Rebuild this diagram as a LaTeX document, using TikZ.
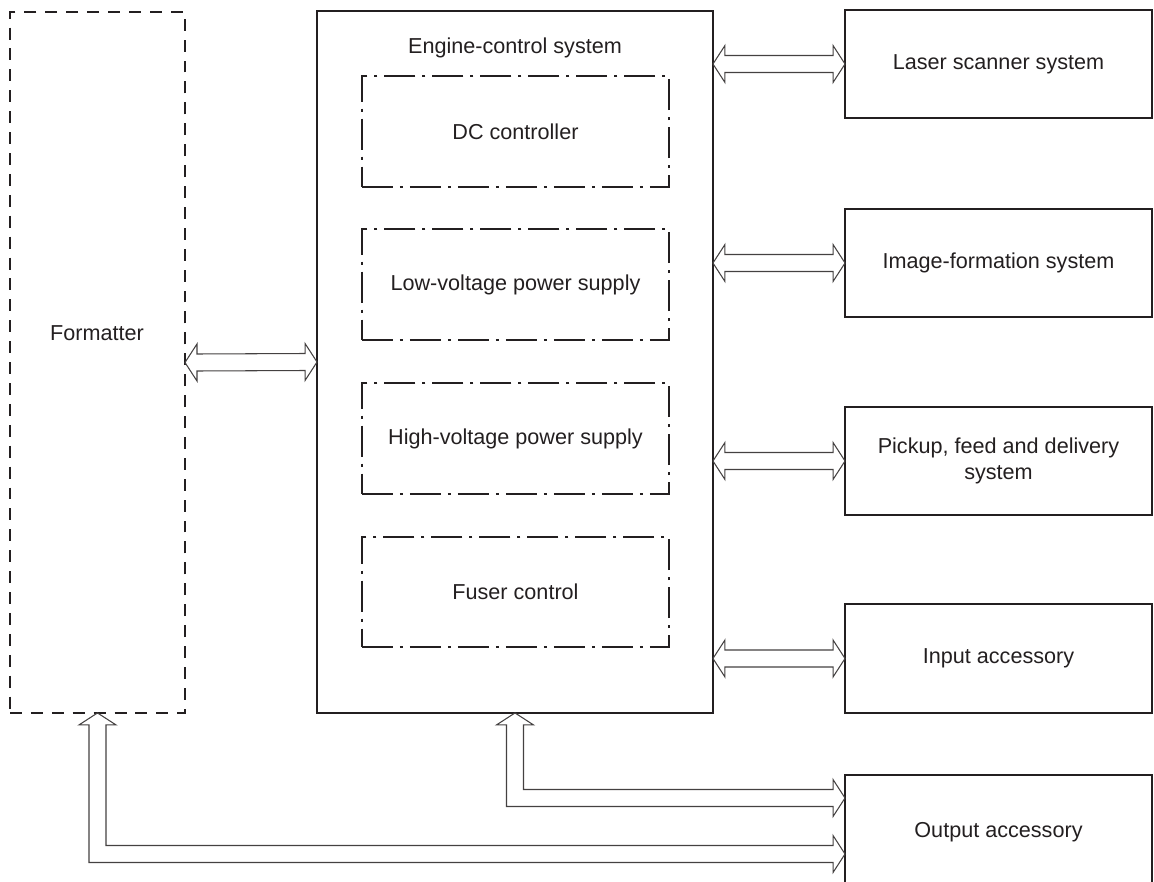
\documentclass[tikz,border=0pt]{standalone}
\usepackage{fontspec}
\setmainfont{Liberation Sans}
\usepackage{tikz}
\usetikzlibrary{calc}
\definecolor{ink}{HTML}{231F20}
\tikzset{
	box/.style={draw=ink, line width=1.5pt, outer sep=0pt, inner sep=0pt},
	dashbox/.style={box, dash pattern=on 6.8pt off 5.1pt},
	dotbox/.style={box, dash pattern=on 17.6pt off 4pt on 1.7pt off 4pt},
	lbl/.style={text=ink, font=\fontsize{12.3}{14.5}\selectfont, align=center},
	fatarrow/.style={draw=ink!85, line width=0.6pt, line join=miter}
}
\def\dblarrow(#1)(#2){\draw[fatarrow] (#1) -- ++(12,-18.5) -- ++(0,10) -- ($(#2)+(-12,-8.5)$) -- ++(0,-10) -- (#2) -- ++(-12,18.5) -- ++(0,-10) -- ($(#1)+(12,8.5)$) -- ++(0,10) -- cycle;}
\def\elbowarrow(#1)(#2){\draw[fatarrow] (#1) -- ++(18.5,12) -- ++(-10,0) -- ($(#1 |- #2)+(8.5,-8.5)$) -- ($(#2)+(-12,-8.5)$) -- ++(0,-10) -- (#2) -- ++(-12,18.5) -- ++(0,-10) -- ($(#1 |- #2)+(-8.5,8.5)$) -- ($(#1)+(-8.5,12)$) -- ++(-10,0) -- cycle;}

\begin{document}
\begin{tikzpicture}[x=0.02cm, y=-0.02cm]
			%%%%% START %%%%%
			\useasboundingbox (0,0) rectangle (1154,882);
			\clip (0,0) rectangle (1154,882);
			
			\node[dashbox, minimum width=3.5cm, minimum height=14.02cm] (formatter) at (97.5, 362.5) {};
			\node[lbl] (formatterlbl) at (97, 333) {Formatter};
			
			\node[box, minimum width=7.92cm, minimum height=14.04cm] (engine) at (515, 362) {};
			\node[lbl] (enginelbl) at (515, 48) {Engine-control system};
			
			\node[dotbox, lbl, minimum width=6.14cm, minimum height=2.22cm] (dcctrl) at (515.5, 131.5) {DC controller};
			\node[dotbox, lbl, minimum width=6.14cm, minimum height=2.22cm] (lvps) at (515.5, 284.5) {Low-voltage power supply};
			\node[dotbox, lbl, minimum width=6.14cm, minimum height=2.22cm] (hvps) at (515.5, 438.5) {High-voltage power supply};
			\node[dotbox, lbl, minimum width=6.14cm, minimum height=2.2cm] (fuser) at (515.5, 592) {Fuser control};
			
			\node[box, lbl, minimum width=6.14cm, minimum height=2.16cm] (laser) at (998.5, 64) {Laser scanner system};
			\node[box, lbl, minimum width=6.14cm, minimum height=2.16cm] (imgform) at (998.5, 263) {Image-formation system};
			\node[box, lbl, minimum width=6.14cm, minimum height=2.16cm] (pickup) at (998.5, 461) {Pickup, feed and delivery\\system};
			\node[box, lbl, minimum width=6.14cm, minimum height=2.18cm] (inacc) at (998.5, 658.5) {Input accessory};
			\node[box, lbl, minimum width=6.14cm, minimum height=2.3cm] (outacc) at (998.5, 832.5) {Output accessory};
			
			\coordinate (oaengine) at ($(outacc.north west)+(0,23)$);
			\coordinate (oaformatter) at ($(outacc.north west)+(0,79)$);
			
			\dblarrow(formatter.east)(engine.west)
			\dblarrow(engine.east |- laser.west)(laser.west)
			\dblarrow(engine.east |- imgform.west)(imgform.west)
			\dblarrow(engine.east |- pickup.west)(pickup.west)
			\dblarrow(engine.east |- inacc.west)(inacc.west)
			
			\elbowarrow(engine.south)(oaengine)
			\elbowarrow(formatter.south)(oaformatter)
			
			%%%%% END %%%%%
\end{tikzpicture}
\end{document}
